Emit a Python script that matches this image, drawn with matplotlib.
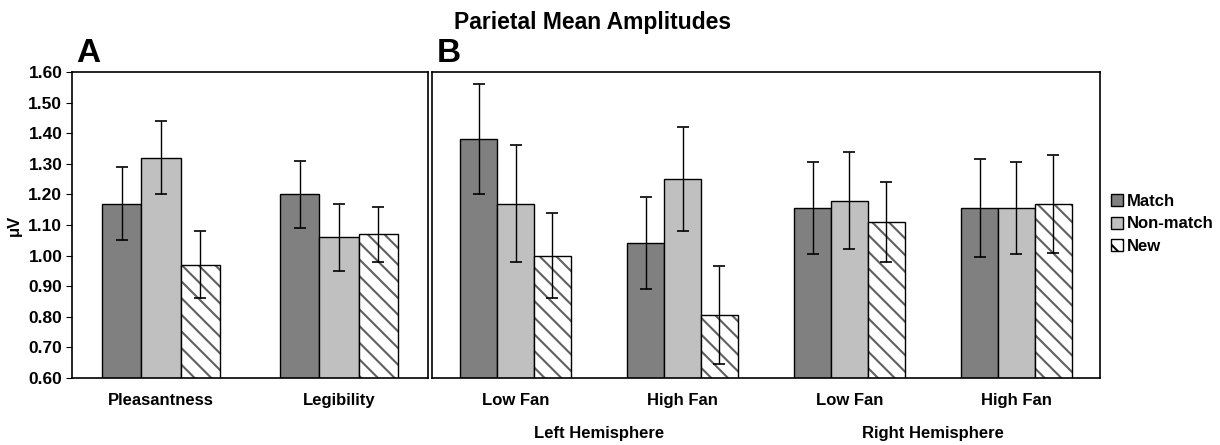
import numpy as np
import matplotlib
matplotlib.use("Agg")
import matplotlib.pyplot as plt
from matplotlib.patches import Patch

plt.rcParams['font.family'] = ['Liberation Sans', 'DejaVu Sans']
plt.rcParams['font.weight'] = 'bold'
plt.rcParams['hatch.linewidth'] = 1.5

series = ['Match', 'Non-match', 'New']
colors = ['#808080', '#c0c0c0', 'white']

# panel A
cats_a = ['Pleasantness', 'Legibility']
means_a = [[1.17, 1.20], [1.32, 1.06], [0.97, 1.07]]
errs_a = [[0.12, 0.11], [0.12, 0.11], [0.11, 0.09]]

# panel B
cats_b = ['Low Fan', 'High Fan', 'Low Fan', 'High Fan']
hemis = ['Left Hemisphere', 'Right Hemisphere']
means_b = [[1.38, 1.04, 1.155, 1.155], [1.17, 1.25, 1.18, 1.155], [1.00, 0.805, 1.11, 1.17]]
errs_b = [[0.18, 0.15, 0.15, 0.16], [0.19, 0.17, 0.16, 0.15], [0.14, 0.16, 0.13, 0.16]]

fig = plt.figure(figsize=(12.2, 4.45), dpi=100)
axA = fig.add_axes([72/1220, 1-378/445, 356/1220, 306/445])
axB = fig.add_axes([432/1220, 1-378/445, 668/1220, 306/445])

w = 0.22

def draw(ax, cats, means, errs):
    x = np.arange(len(cats))
    for i in range(3):
        xs = x + (i-1)*w
        if i == 2:
            ax.bar(xs, means[i], w, bottom=0, color='white', edgecolor='#606060',
                   hatch='\\\\', linewidth=0, zorder=2)
            ax.bar(xs, means[i], w, fill=False, edgecolor='black', linewidth=1.0, zorder=3)
        else:
            ax.bar(xs, means[i], w, color=colors[i], edgecolor='black', linewidth=1.0, zorder=2)
        ax.errorbar(xs, means[i], yerr=errs[i], fmt='none', ecolor='black',
                    elinewidth=1.0, capsize=4, capthick=1.2, zorder=4)
    ax.set_xlim(-0.5, len(cats)-0.5)
    ax.set_ylim(0.6, 1.6)
    ax.set_xticks(x)
    ax.set_xticklabels(cats, fontsize=12, fontweight='bold')
    ax.tick_params(axis='x', length=0, pad=11)
    for s in ax.spines.values():
        s.set_linewidth(1.2)

draw(axA, cats_a, means_a, errs_a)
draw(axB, cats_b, means_b, errs_b)

axA.set_yticks(np.arange(0.6, 1.61, 0.1))
axA.set_yticklabels(['%.2f' % v for v in np.arange(0.6, 1.61, 0.1)], fontsize=12.5, fontweight='bold')
axA.tick_params(axis='y', length=4, direction='out', pad=3)
axA.set_ylabel('μV', fontsize=12, fontweight='bold')
axA.yaxis.set_label_coords(-50/356, 0.5)
axB.set_yticks([])

for j, h in enumerate(hemis):
    axB.text(0.5 + 2*j, -0.18, h, transform=axB.get_xaxis_transform(),
             ha='center', va='center', fontsize=12, fontweight='bold')

fig.text(593/1220, 1-22/445, 'Parietal Mean Amplitudes', ha='center', va='center',
         fontsize=16.5, fontweight='bold')
fig.text(76/1220, 1-62/445, 'A', ha='left', va='baseline', fontsize=24, fontweight='bold')
fig.text(437/1220, 1-62/445, 'B', ha='left', va='baseline', fontsize=24, fontweight='bold')

handles = [Patch(facecolor=colors[0], edgecolor='black'),
           Patch(facecolor=colors[1], edgecolor='black'),
           Patch(facecolor='white', edgecolor='black', hatch='\\\\')]
fig.legend(handles, series, loc='center left', bbox_to_anchor=(1104/1220, 1-224/445),
           frameon=False, fontsize=12, handlelength=0.75, handleheight=0.75,
           handletextpad=0.2, labelspacing=0.45, borderaxespad=0)

fig.savefig('out.png', dpi=100)
